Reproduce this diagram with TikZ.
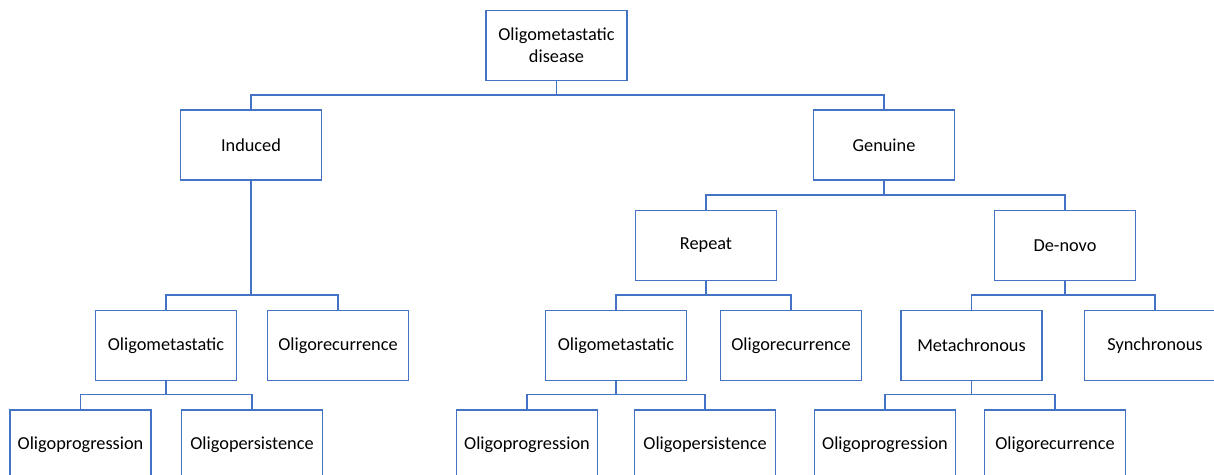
\documentclass[tikz,border=0pt]{standalone}
\usepackage{fontspec}
\setmainfont{Carlito}
\usepackage{tikz}
\usetikzlibrary{positioning}
\definecolor{boxblue}{HTML}{4472C4}

\begin{document}
\begin{tikzpicture}[
    x=1pt, y=-1pt,
    box/.style={draw=boxblue, line width=1.4pt, fill=white, minimum width=141pt, minimum height=70pt, align=center, font=\fontsize{18.3}{22}\selectfont},
    link/.style={draw=boxblue, line width=1.4pt}
]
\clip (0,0) rectangle (1214,474);

% Top level
\node[box] (root) at (556.5,45.5) {Oligometastatic\\disease};
\node[box] (induced) at (251,145) {Induced};
\node[box] (genuine) at (884,145) {Genuine};

% Genuine branch
\node[box] (repeat) at (706,245.5) {Repeat};
\node[box] (denovo) at (1065,245.5) {De-novo};

% Third row
\node[box] (omleft) at (166,345.5) {Oligometastatic};
\node[box] (orleft) at (338,345.5) {Oligorecurrence};
\node[box] (ommid) at (616,345.5) {Oligometastatic};
\node[box] (ormid) at (791,345.5) {Oligorecurrence};
\node[box] (metachr) at (971.5,345.5) {Metachronous};
\node[box] (synchr) at (1155,345.5) {Synchronous};

% Bottom row
\node[box] (opleft) at (80.5,445) {Oligoprogression};
\node[box] (opsleft) at (252,445) {Oligopersistence};
\node[box] (opmid) at (527,445) {Oligoprogression};
\node[box] (opsmid) at (705,445) {Oligopersistence};
\node[box] (opright) at (885,445) {Oligoprogression};
\node[box] (orright) at (1055,445) {Oligorecurrence};

% Connectors
\draw[link] (induced.north) -- ++(0,-14.5) -| (root.south);
\draw[link] (genuine.north) -- ++(0,-14.5) -| (root.south);
\draw[link] (repeat.north) -- ++(0,-15) -| (genuine.south);
\draw[link] (denovo.north) -- ++(0,-15) -| (genuine.south);
\draw[link] (omleft.north) -- ++(0,-15) -| (induced.south);
\draw[link] (orleft.north) -- ++(0,-15) -| (induced.south);
\draw[link] (ommid.north) -- ++(0,-15) -| (repeat.south);
\draw[link] (ormid.north) -- ++(0,-15) -| (repeat.south);
\draw[link] (metachr.north) -- ++(0,-15) -| (denovo.south);
\draw[link] (synchr.north) -- ++(0,-15) -| (denovo.south);
\draw[link] (opleft.north) -- ++(0,-15) -| (omleft.south);
\draw[link] (opsleft.north) -- ++(0,-15) -| (omleft.south);
\draw[link] (opmid.north) -- ++(0,-15) -| (ommid.south);
\draw[link] (opsmid.north) -- ++(0,-15) -| (ommid.south);
\draw[link] (opright.north) -- ++(0,-15) -| (metachr.south);
\draw[link] (orright.north) -- ++(0,-15) -| (metachr.south);

\end{tikzpicture}
\end{document}
